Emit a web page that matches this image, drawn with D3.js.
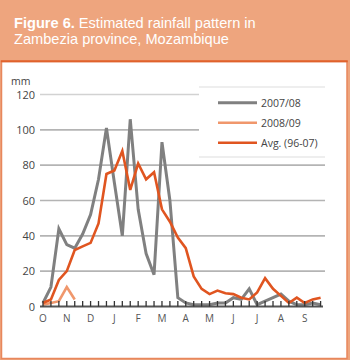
<!DOCTYPE html>
<html><head><meta charset="utf-8">
<script src="https://cdn.jsdelivr.net/npm/d3@7/dist/d3.min.js"></script>
<style>html,body{margin:0;padding:0;background:#fff;}svg{display:block;}</style>
</head><body>
<script>
const dekads = d3.range(36);
const monthLabels = ["O","N","D","J","F","M","A","M","J","J","A","S"];
const yTicks = [0,20,40,60,80,100,120];
const s2007 = [2,11,44,35,33,41,52,72,101,70,40,106,55,30,18,93,60,5,2,1,1,1,2,2,5,4,10,1,3,5,7,3,1,1,2,1];
const s2008 = [1,2,3,11,4];
const sAvg = [2,4,15,20,32,34,36,47,75,77,88,66,81,72,76,55,48,39,33,17,10,7,9,7.5,7,5,4,8,16,10,6,2,5,2,4,5];
const seriesNames = ["2007/08","2008/09","Avg. (96-07)"];
const seriesColors = ["#808080","#f0976c","#e05520"];

const W=350,H=360;
const svg=d3.select("body").append("svg").attr("width",W).attr("height",H);
svg.append("rect").attr("width",W).attr("height",H).attr("fill","#eea57e");
svg.append("rect").attr("x",1.5).attr("y",61.5).attr("width",345.5).attr("height",297)
  .attr("fill","#fff").attr("stroke","#e8875c").attr("stroke-width",1.5);
svg.append("line").attr("x1",0.8).attr("x2",347.7).attr("y1",61.2).attr("y2",61.2)
  .attr("stroke","#e0622c").attr("stroke-width",2);

const tFont="14.6px", tFam="'Liberation Sans'";
const tBold=svg.append("text").attr("x",14).attr("y",27.7).attr("fill","#fff").attr("font-weight","bold")
  .style("font-family",tFam).style("font-size",tFont).text("Figure 6.");
const bw=tBold.node().getComputedTextLength();
svg.append("text").attr("x",14+bw+4).attr("y",27.7).attr("fill","#fff")
  .style("font-family",tFam).style("font-size",tFont).text("Estimated rainfall pattern in");
svg.append("text").attr("x",14).attr("y",44).attr("fill","#fff")
  .style("font-family",tFam).style("font-size",tFont).text("Zambezia province, Mozambique");

const x=d3.scaleLinear().domain([0,35]).range([43,320.6]);
const y=d3.scaleLinear().domain([0,120]).range([306.5,94.5]);

// gridlines
const legX0=199,legX1=325,legY0=87,legY1=157;
yTicks.filter(d=>d>0).forEach(t=>{
  const yy=y(t);
  const inLeg = yy>legY0 && yy<legY1 || t===120;
  svg.append("line").attr("x1",40).attr("x2",inLeg?legX0:325).attr("y1",yy).attr("y2",yy)
    .attr("stroke",t===120?"#d2d2d2":"#b4b4b4").attr("stroke-width",1.6);
});
// y labels
svg.append("g").selectAll("text").data(yTicks).join("text")
  .attr("x",35).attr("y",d=>y(d)+4).attr("text-anchor","end")
  .attr("fill","#444").style("font-family","'Open Sans'").style("font-size","11px").text(d=>d);
svg.append("text").attr("x",11).attr("y",85).attr("fill","#444")
  .style("font-family","'Open Sans'").style("font-size","10.5px").text("mm");

// lines
const line=d3.line().x((d,i)=>x(i)).y(d=>y(d));
[s2007,s2008,sAvg].forEach((s,k)=>{
  svg.append("path").datum(s).attr("d",line).attr("fill","none")
    .attr("stroke",seriesColors[k]).attr("stroke-width",k===0?3:2.6).attr("stroke-linejoin","miter");
});

// x axis
svg.append("line").attr("x1",40).attr("x2",323).attr("y1",y(0)).attr("y2",y(0))
  .attr("stroke","#555").attr("stroke-width",2);
svg.append("g").selectAll("line").data(dekads).join("line")
  .attr("x1",d=>x(d)).attr("x2",d=>x(d)).attr("y1",y(0)).attr("y2",y(0)-5.5)
  .attr("stroke","#333").attr("stroke-width",1.3);
svg.append("g").selectAll("text").data(monthLabels).join("text")
  .attr("x",(d,i)=>x(i*3)).attr("y",322).attr("text-anchor","middle")
  .attr("fill","#555").style("font-family","'Open Sans'").style("font-size","10px").text(d=>d);

// legend
svg.append("rect").attr("x",legX0).attr("y",legY0).attr("width",legX1-legX0).attr("height",legY1-legY0).attr("fill","#fff");
svg.append("line").attr("x1",legX0).attr("x2",legX1).attr("y1",legY0).attr("y2",legY0).attr("stroke","#ddd").attr("stroke-width",1);
svg.append("line").attr("x1",legX0).attr("x2",legX1).attr("y1",legY1).attr("y2",legY1).attr("stroke","#ddd").attr("stroke-width",1);
const lg=svg.append("g").selectAll("g").data(seriesNames).join("g")
  .attr("transform",(d,i)=>`translate(0,${102.7+i*20})`);
lg.append("line").attr("x1",218).attr("x2",257).attr("stroke",(d,i)=>seriesColors[i]).attr("stroke-width",(d,i)=>i===0?3:2.6);
lg.append("text").attr("x",261).attr("y",4).attr("fill","#444")
  .style("font-family","'Open Sans'").style("font-size","10.5px").text(d=>d);
</script>
</body></html>
